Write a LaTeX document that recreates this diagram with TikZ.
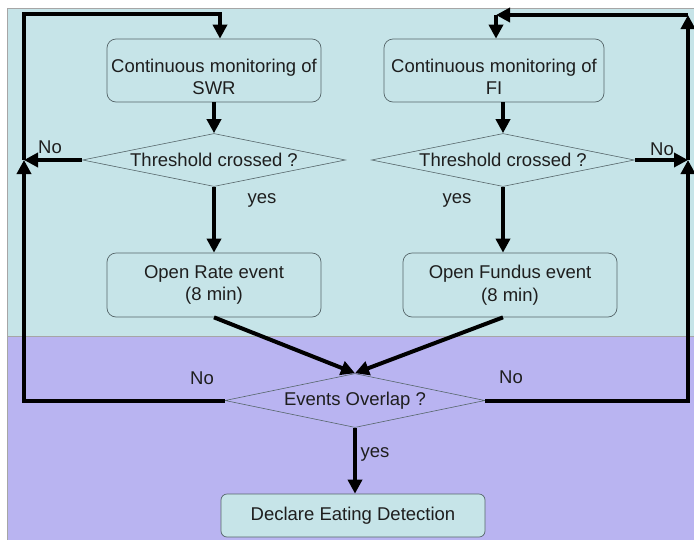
\documentclass[tikz,border=0pt]{standalone}
\usepackage{fontspec}
\setmainfont{Liberation Sans}
\usetikzlibrary{shapes.geometric,arrows.meta}
\definecolor{panelcyan}{HTML}{C6E4E8}
\definecolor{panelviolet}{HTML}{B9B4F1}
\definecolor{inkgray}{HTML}{1E1E1E}
\definecolor{rimgray}{HTML}{56666A}
\newcommand{\lowstrut}{\rule{0pt}{26pt}}
\begin{document}
\begin{tikzpicture}[x=1pt,y=-1pt,
  font=\fontsize{18.5}{22.5}\selectfont, text=inkgray,
  procbox/.style={draw=rimgray, line width=0.7pt, rounded corners=9pt, fill=panelcyan,
    minimum width=214pt, minimum height=63pt, align=center, inner sep=2pt},
  decbox/.style={diamond, draw=rimgray, line width=0.6pt, aspect=4.9, inner sep=0pt,
    minimum width=263pt, minimum height=53pt},
  flow/.style={line width=4pt, -{Triangle[length=14pt,width=14pt]}},
  tag/.style={inner sep=0pt}]
  \useasboundingbox (0,0) rectangle (694,539);
  % Panels
  \filldraw[fill=panelcyan, draw=gray!70, line width=0.6pt] (7,8) rectangle (694,336);
  \filldraw[fill=panelviolet, draw=gray!70, line width=0.6pt] (7,336) rectangle (694,540);
  % Left branch
  \node[procbox] (swr) at (214,70.5) {\lowstrut Continuous monitoring of\\SWR};
  \node[decbox] (thl) at (214,160) {Threshold crossed ?};
  \node[procbox, minimum height=64pt] (rate) at (214,285) {Open Rate event\\(8 min)};
  % Right branch
  \node[procbox, minimum width=220pt] (fi) at (494,70.5) {\lowstrut Continuous monitoring of\\FI};
  \node[decbox] (thr) at (503,160) {Threshold crossed ?};
  \node[procbox, minimum height=64pt] (fundus) at (510,285) {Open Fundus event\\(8 min)};
  % Merge
  \node[decbox, minimum width=260pt, minimum height=54pt] (ovl) at (355,400.5) {Events Overlap ?};
  \node[procbox, minimum width=264pt, minimum height=43pt, rounded corners=6pt] (dec) at (353,515.5) {Declare Eating Detection};
  % Loop corners
  \coordinate (lb) at (24,400.5);
  \coordinate (lj) at (24,160);
  \coordinate (lt) at (24,14);
  \coordinate (rb) at (688,400.5);
  \coordinate (rj) at (688,160);
  \coordinate (rt) at (688,15);
  \coordinate (ft) at (496,15);
  % Main flow
  \draw[flow] (swr.south) -- (thl.north);
  \draw[flow] (thl.south) -- (rate.north);
  \draw[flow] (fi.south -| thr.north) -- (thr.north);
  \draw[flow] (thr.south) -- (thr.south |- fundus.north);
  \draw[flow] (rate.south) -- (ovl.north);
  \draw[flow] (fundus.south -| thr.south) -- (ovl.north);
  \draw[flow] (ovl.south) -- (ovl.south |- dec.north);
  % Left loop
  \draw[flow] (ovl.west) -- (lb) -- (lj);
  \draw[flow] (thl.west) -- (lj);
  \draw[flow] (lj) -- (lt) -- (lt -| 220,0) -- (swr.north -| 220,0);
  % Right loop
  \draw[flow] (ovl.east) -- (rb) -- (rj);
  \draw[flow] (thr.east) -- (rj);
  \draw[flow] (rj) -- (rt);
  \draw[flow] (rt) -- (ft);
  \draw[flow] (ft) -- (ft |- fi.north);
  % Labels
  \node[tag] (nol) at (50,147) {No};
  \node[tag] (nor) at (662,149) {No};
  \node[tag] (nobl) at (202,378) {No};
  \node[tag] (nobr) at (511,377) {No};
  \node[tag] (yesl) at (262,200) {yes};
  \node[tag] (yesr) at (457,200) {yes};
  \node[tag] (yesm) at (375,454) {yes};
\end{tikzpicture}
\end{document}
